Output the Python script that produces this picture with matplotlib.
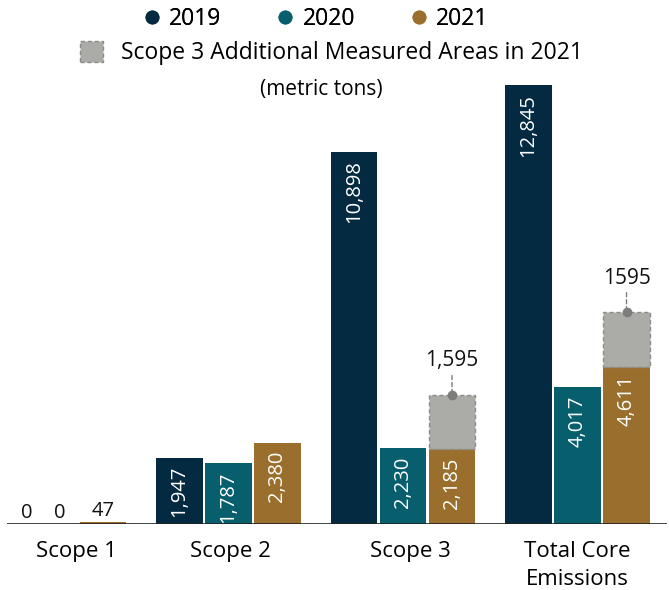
import matplotlib.pyplot as plt
from matplotlib.lines import Line2D
from matplotlib.patches import Patch
import numpy as np

plt.rcParams['font.family'] = ['Open Sans', 'DejaVu Sans']

categories = ["Scope 1", "Scope 2", "Scope 3", "Total Core\nEmissions"]
years = ["2019", "2020", "2021"]
values_2019 = [0, 1947, 10898, 12845]
values_2020 = [0, 1787, 2230, 4017]
values_2021 = [47, 2380, 2185, 4611]
extra_2021 = [0, 0, 1595, 1595]
extra_labels = ["", "", "1,595", "1595"]

colors = ["#032a41", "#075f6d", "#9a6f2d"]
gray = "#abaca7"


def main():
    fig = plt.figure(figsize=(6.69, 5.9), dpi=100)
    ax = fig.add_axes([7 / 669, 66 / 590, 660 / 669, 464 / 590])

    x = np.arange(len(categories))
    width = 0.268
    step = 0.281
    series = [values_2019, values_2020, values_2021]
    xmin, xmax = -0.269, 3.513

    for i, vals in enumerate(series):
        xs = x + (i - 1) * step
        ax.bar(xs, vals, width, color=colors[i], linewidth=0)
        for xi, v in zip(xs, vals):
            label = f"{v:,}"
            if v < 1000:
                # keep the zero labels inside the plot area
                lx = max(xi, xmin + 0.115) if v == 0 else xi
                if v == 0 and i == 1:
                    lx = xi + 0.035
                ax.annotate(label, (lx, v), xytext=(0, 1), textcoords="offset points",
                            ha="center", va="bottom", fontsize=14.5, color="#111111")
            else:
                ax.annotate(label, (xi, v), xytext=(0, -6), textcoords="offset points",
                            ha="center", va="top", rotation=90, fontsize=14.5,
                            color="white")

    # additional measured areas stacked on 2021
    xs = x + step
    for xi, base, extra, lab in zip(xs, values_2021, extra_2021, extra_labels):
        if extra == 0:
            continue
        ax.bar(xi, extra, width, bottom=base, color=gray, edgecolor="#8c8c8a",
               linestyle=(0, (3, 2)), linewidth=1.0)
        top = base + extra
        ax.plot(xi, top, "o", color="#7d7d7b", markersize=6, zorder=5)
        ax.annotate("", (xi, top), xytext=(0, 16), textcoords="offset points",
                    arrowprops=dict(arrowstyle="-", color="#7d7d7b",
                                    linestyle=(0, (3, 2)), linewidth=1))
        ax.annotate(lab, (xi, top), xytext=(0, 17), textcoords="offset points",
                    ha="center", va="bottom", fontsize=15, color="#111111")

    ax.axhline(0, color="#222222", linewidth=1.2)
    ax.set_xlim(xmin, xmax)
    ax.set_ylim(0, 13591)
    ax.set_xticks([0.13, 1.01, 2.04, 3.0])
    ax.set_xticklabels(categories, fontsize=16, linespacing=1.45)
    ax.tick_params(axis="x", length=0, pad=12)
    ax.set_yticks([])
    for s in ax.spines.values():
        s.set_visible(False)

    handles = [Line2D([], [], marker="o", linestyle="", markersize=9,
                      color=c) for c in colors]
    leg1 = fig.legend(handles, years, loc="center", bbox_to_anchor=(0.47, 0.968),
                      ncol=3, frameon=False, fontsize=16.5, handletextpad=0.25,
                      columnspacing=2.3, handlelength=1.0)
    fig.add_artist(leg1)
    patch = Patch(facecolor=gray, edgecolor="#8c8c8a", linestyle=(0, (3, 2)))
    fig.legend([patch], ["Scope 3 Additional Measured Areas in 2021"], loc="center",
               bbox_to_anchor=(0.495, 0.91), frameon=False, fontsize=16.5,
               handlelength=1.0, handleheight=1.0, handletextpad=0.8)
    fig.text(0.481, 0.848, "(metric tons)", ha="center", va="center", fontsize=15)

    fig.savefig("out.png", dpi=100)


if __name__ == "__main__":
    main()
